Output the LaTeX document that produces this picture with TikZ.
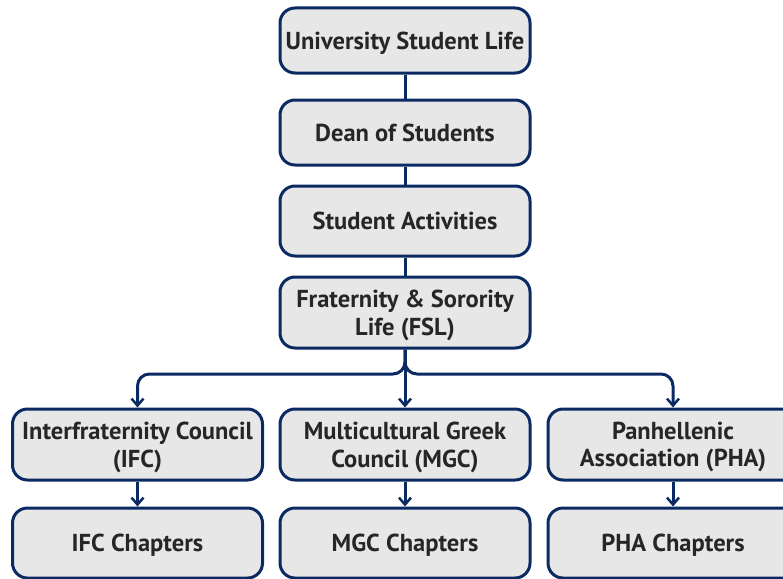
\documentclass[tikz,border=0pt]{standalone}
\usepackage{fontspec}
\setmainfont{PT Sans}
\usetikzlibrary{arrows.meta,calc}
\definecolor{navy}{HTML}{0B2A62}
\definecolor{boxfill}{HTML}{E7E7E7}
\definecolor{txt}{HTML}{262626}
\begin{document}
\begin{tikzpicture}[x=1pt,y=-1pt,
  orgbox/.style={draw=navy,fill=boxfill,line width=3pt,rounded corners=15pt,
    minimum width=250pt,minimum height=#1,inner sep=0pt,align=center,text depth=0pt,
    text=txt,font=\fontsize{24.5}{27.5}\selectfont\bfseries},
  orgbox/.default=65pt,
  conn/.style={draw=navy,line width=3pt},
  arr/.style={conn,-{Straight Barb[length=7pt,width=12pt,line width=2.5pt]}}]
\useasboundingbox (0,0) rectangle (783,578);
\begin{scope}
\clip (0,0) rectangle (783,578);
\node[orgbox] (usl) at (405,40.5) {University Student Life};
\node[orgbox] (dos) at (405,132.5) {Dean of Students};
\node[orgbox=70pt] (sa) at (405,221) {Student Activities};
\node[orgbox=71pt] (fsl) at (405,312.5) {Fraternity \& Sorority\\Life (FSL)};
\node[orgbox=71pt] (ifc) at (137.5,444.5) {Interfraternity Council\\(IFC)};
\node[orgbox=71pt] (mgc) at (405,444.5) {Multicultural Greek\\Council (MGC)};
\node[orgbox=71pt] (pha) at (673,444.5) {Panhellenic\\Association (PHA)};
\node[orgbox=70pt] (ifcc) at (137.5,543) {IFC Chapters};
\node[orgbox=70pt] (mgcc) at (405,543) {MGC Chapters};
\node[orgbox=70pt] (phac) at (673,543) {PHA Chapters};
\coordinate (bar) at (0,374);
\draw[conn] (usl) -- (dos);
\draw[conn] (dos) -- (sa);
\draw[conn] (sa) -- (fsl);
\draw[arr] (fsl) -- (mgc);
\draw[arr,rounded corners=12pt] (fsl.south) |- (ifc.north |- bar) -- (ifc.north);
\draw[arr,rounded corners=12pt] (fsl.south) |- (pha.north |- bar) -- (pha.north);
\draw[arr] (ifc) -- (ifcc);
\draw[arr] (mgc) -- (mgcc);
\draw[arr] (pha) -- (phac);
\end{scope}
\end{tikzpicture}
\end{document}
